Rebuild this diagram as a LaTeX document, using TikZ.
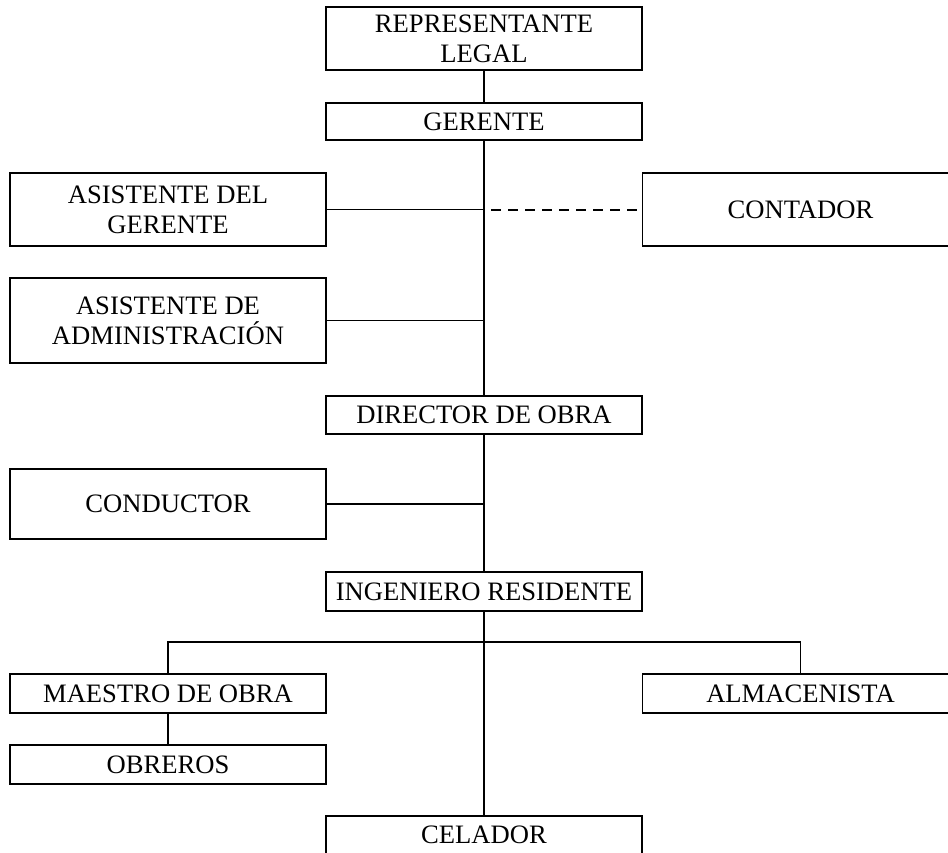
\documentclass[tikz,border=0pt]{standalone}
\usepackage{fontspec}
\setmainfont{Liberation Serif}
\usepackage{tikz}
\usetikzlibrary{positioning}

\begin{document}
\begin{tikzpicture}[x=0.5pt, y=-0.5pt,
    cargo/.style={draw, line width=0.6pt, align=center, inner sep=0pt,
      minimum width=158pt, font=\fontsize{13.3}{15}\selectfont},
    enlace/.style={line width=0.6pt},
    asesor/.style={line width=1pt, dash pattern=on 5pt off 3.5pt}]
    \useasboundingbox (0,0) rectangle (948,852);
    \clip (0,0) rectangle (948,852);
    \node[cargo, minimum height=31.5pt] (rep) at (484,38.5) {REPRESENTANTE\\LEGAL};
    \node[cargo, minimum height=18.5pt] (ger) at (484,121.5) {GERENTE};
    \node[cargo, minimum height=36.5pt] (asg) at (168,209.5) {ASISTENTE DEL\\GERENTE};
    \node[cargo, minimum height=36.5pt] (cont) at (800.5,209.5) {CONTADOR};
    \node[cargo, minimum height=42.5pt] (asa) at (168,320.5) {ASISTENTE DE\\ADMINISTRACIÓN};
    \node[cargo, minimum height=19pt] (dir) at (484,415) {DIRECTOR DE OBRA};
    \node[cargo, minimum height=35pt] (cond) at (168,504) {CONDUCTOR};
    \node[cargo, minimum height=19.5pt] (ing) at (484,591.5) {INGENIERO RESIDENTE};
    \node[cargo, minimum height=19.5pt] (mae) at (168,693.5) {MAESTRO DE OBRA};
    \node[cargo, minimum height=19.5pt] (alm) at (800.5,693.5) {ALMACENISTA};
    \node[cargo, minimum height=19.5pt] (obr) at (168,764.5) {OBREROS};
    \node[cargo, minimum height=19pt] (cel) at (484,835) {CELADOR};
    \coordinate (bus) at (484,642);
    \coordinate (corte) at (491,212);
    % linea principal
    \draw[enlace] (rep.south) -- (ger.north);
    \draw[enlace] (ger.south) -- (dir.north);
    \draw[enlace] (dir.south) -- (ing.north);
    \draw[enlace] (ing.south) -- (cel.north);
    % ramas laterales
    \draw[enlace] (asg.east) -- (asg.east -| ger.south);
    \draw[enlace] (asa.east) -- (asa.east -| ger.south);
    \draw[enlace] (cond.east) -- (cond.east -| dir.south);
    \draw[asesor] (corte |- cont.west) -- (cont.west);
    \draw[enlace] (mae.north) -- (mae.north |- bus) -- (alm.north |- bus) -- (alm.north);
    \draw[enlace] (mae.south) -- (obr.north);
\end{tikzpicture}
\end{document}
